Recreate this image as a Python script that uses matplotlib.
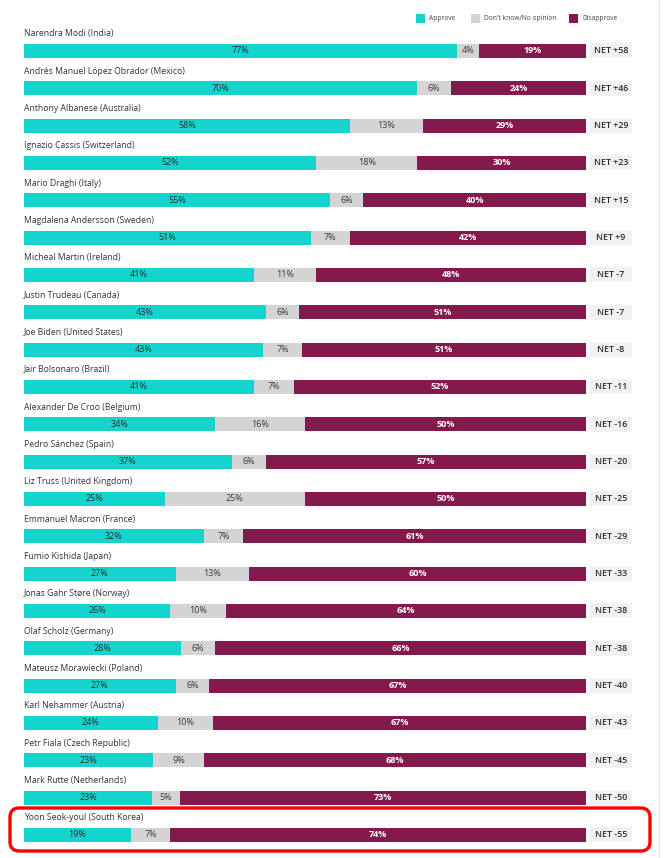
import matplotlib
matplotlib.use("Agg")
import matplotlib.pyplot as plt
from matplotlib.patches import Rectangle, FancyBboxPatch
import numpy as np

names = [
    "Narendra Modi (India)",
    "Andrés Manuel López Obrador (Mexico)",
    "Anthony Albanese (Australia)",
    "Ignazio Cassis (Switzerland)",
    "Mario Draghi (Italy)",
    "Magdalena Andersson (Sweden)",
    "Micheal Martin (Ireland)",
    "Justin Trudeau (Canada)",
    "Joe Biden (United States)",
    "Jair Bolsonaro (Brazil)",
    "Alexander De Croo (Belgium)",
    "Pedro Sánchez (Spain)",
    "Liz Truss (United Kingdom)",
    "Emmanuel Macron (France)",
    "Fumio Kishida (Japan)",
    "Jonas Gahr Støre (Norway)",
    "Olaf Scholz (Germany)",
    "Mateusz Morawiecki (Poland)",
    "Karl Nehammer (Austria)",
    "Petr Fiala (Czech Republic)",
    "Mark Rutte (Netherlands)",
    "Yoon Seok-youl (South Korea)",
]
approve = [77, 70, 58, 52, 55, 51, 41, 43, 43, 41, 34, 37, 25, 32, 27, 26, 28, 27, 24, 23, 23, 19]
dont_know = [4, 6, 13, 18, 6, 7, 11, 6, 7, 7, 16, 6, 25, 7, 13, 10, 6, 6, 10, 9, 5, 7]
disapprove = [19, 24, 29, 30, 40, 42, 48, 51, 51, 52, 50, 57, 50, 61, 60, 64, 66, 67, 67, 68, 73, 74]
net_labels = ["+58", "+46", "+29", "+23", "+15", "+9", "-7", "-7", "-8", "-11", "-16", "-20",
              "-25", "-29", "-33", "-38", "-38", "-40", "-43", "-45", "-50", "-55"]
legend_labels = ["Approve", "Don't know/No opinion", "Disapprove"]

C_APP = "#14d5cd"
C_DK = "#d4d4d4"
C_DIS = "#84194d"

W, H = 663, 858
fig = plt.figure(figsize=(W / 100, H / 100), dpi=100)
fig.patch.set_facecolor("white")

FONT = ["Open Sans", "DejaVu Sans"]

# axes geometry in pixels
x0, x1 = 24, 586
y_first, row_h = 51, 37.33
n = len(names)
top_px = y_first - row_h / 2
bot_px = y_first + (n - 1) * row_h + row_h / 2
ax = fig.add_axes([x0 / W, 1 - bot_px / H, (x1 - x0) / W, (bot_px - top_px) / H])
ax.set_xlim(0, 100)
ax.set_ylim(n - 0.5, -0.5)
ax.axis("off")

a = np.array(approve, float)
d = np.array(dont_know, float)
s = np.array(disapprove, float)
tot = a + d + s
a_n, d_n, s_n = a / tot * 100, d / tot * 100, s / tot * 100
y = np.arange(n)
bh = 14 / row_h

ax.barh(y, a_n, height=bh, color=C_APP, linewidth=0)
ax.barh(y, d_n, left=a_n, height=bh, color=C_DK, linewidth=0)
ax.barh(y, s_n, left=a_n + d_n, height=bh, color=C_DIS, linewidth=0)

fs = 6.5
for i in range(n):
    ax.text(a_n[i] / 2, i, f"{approve[i]}%", ha="center", va="center",
            fontsize=fs, color="#2e2e2e", family=FONT)
    ax.text(a_n[i] + d_n[i] / 2, i, f"{dont_know[i]}%", ha="center", va="center",
            fontsize=fs, color="#3a3a3a", family=FONT)
    ax.text(a_n[i] + d_n[i] + s_n[i] / 2, i, f"{disapprove[i]}%", ha="center", va="center",
            fontsize=fs, color="white", fontweight="bold", family=FONT)
    ax.text(0, i - 17 / row_h, names[i], ha="left", va="center",
            fontsize=6.2, color="#333333", family=FONT, clip_on=False)
    # NET box
    bx0 = (590 - x0) / (x1 - x0) * 100
    bx1 = (632 - x0) / (x1 - x0) * 100
    ax.add_patch(Rectangle((bx0, i - 7.5 / row_h), bx1 - bx0, 15 / row_h,
                           facecolor="#f1f1f1", edgecolor="none", clip_on=False))
    ax.text((bx0 + bx1) / 2, i, f"NET {net_labels[i]}", ha="center", va="center",
            fontsize=6.4, color="#2b2b2b", fontweight="semibold", family=FONT, clip_on=False)

# legend (figure pixel coordinates)
def px(xp, yp):
    return xp / W, 1 - yp / H

leg_items = [(416, 429, C_APP), (471, 484, C_DK), (569, 582, C_DIS)]
for (sx, tx, col), lab in zip(leg_items, legend_labels):
    fig.patches.append(Rectangle(px(sx, 23), 9 / W, 9 / H, transform=fig.transFigure,
                                 facecolor=col, edgecolor="none"))
    fig.text(*px(tx, 18.5), lab, ha="left", va="center", fontsize=4.8,
             color="#444444", family=FONT)

# right border line
fig.add_artist(plt.Line2D([659 / W, 659 / W], [0, 1], transform=fig.transFigure,
                          color="#e6e6e6", linewidth=1))

# red highlight box
fig.patches.append(FancyBboxPatch(px(10, 851), 640 / W, 43 / H,
                                  boxstyle="round,pad=0,rounding_size=0.014",
                                  transform=fig.transFigure, facecolor="none",
                                  edgecolor="#ff0000", linewidth=2.4,
                                  mutation_aspect=W / H))

fig.savefig("out.png", dpi=100, facecolor="white")
